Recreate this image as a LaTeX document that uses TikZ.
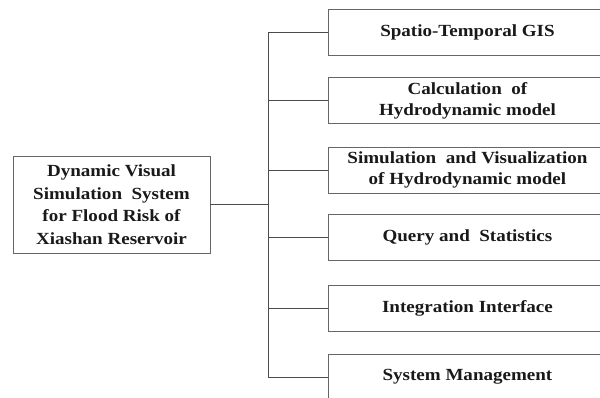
\documentclass[tikz,border=0pt]{standalone}
\usepackage{fontspec}
\setmainfont[FakeStretch=1.12]{Liberation Serif}
\begin{document}
\begin{tikzpicture}[x=1pt,y=-1pt,
  box/.style={draw=black!60, line width=0.9pt, inner sep=0pt, align=center,
    font=\fontsize{17}{21}\selectfont\bfseries, text=black!90},
  sub/.style={box, anchor=west, minimum width=278pt, minimum height=46pt},
  link/.style={draw=black!70, line width=0.9pt}]
\useasboundingbox (0,0) rectangle (600,398);
\clip (0,0) rectangle (600,398);
% root box
\node[box, minimum width=197pt, minimum height=97pt,
  font=\fontsize{17}{22.5}\selectfont\bfseries] (root) at (111.5,204.5)
  {Dynamic Visual\\Simulation\ \ System\\for Flood Risk of\\Xiashan Reservoir};
% module boxes
\node[sub] (m1) at (328,32.5) {Spatio-Temporal GIS};
\node[sub] (m2) at (328,100.5) {Calculation\ \ of\\Hydrodynamic model};
\node[sub] (m3) at (328,170) {Simulation\ \ and Visualization\\of Hydrodynamic model};
\node[sub] (m4) at (328,237.5) {Query and\ \ Statistics};
\node[sub] (m5) at (328,308) {Integration Interface};
\node[sub] (m6) at (328,377) {System Management};
% trunk and branches
\coordinate (tr) at (268,0);
\draw[link] (root.east) -- (root.east -| tr);
\foreach \m in {m1,m2,m3,m4,m5,m6}
  \draw[link] (\m.west) -- (\m.west -| tr);
\draw[link] (m1.west -| tr) -- (m6.west -| tr);
\end{tikzpicture}
\end{document}
